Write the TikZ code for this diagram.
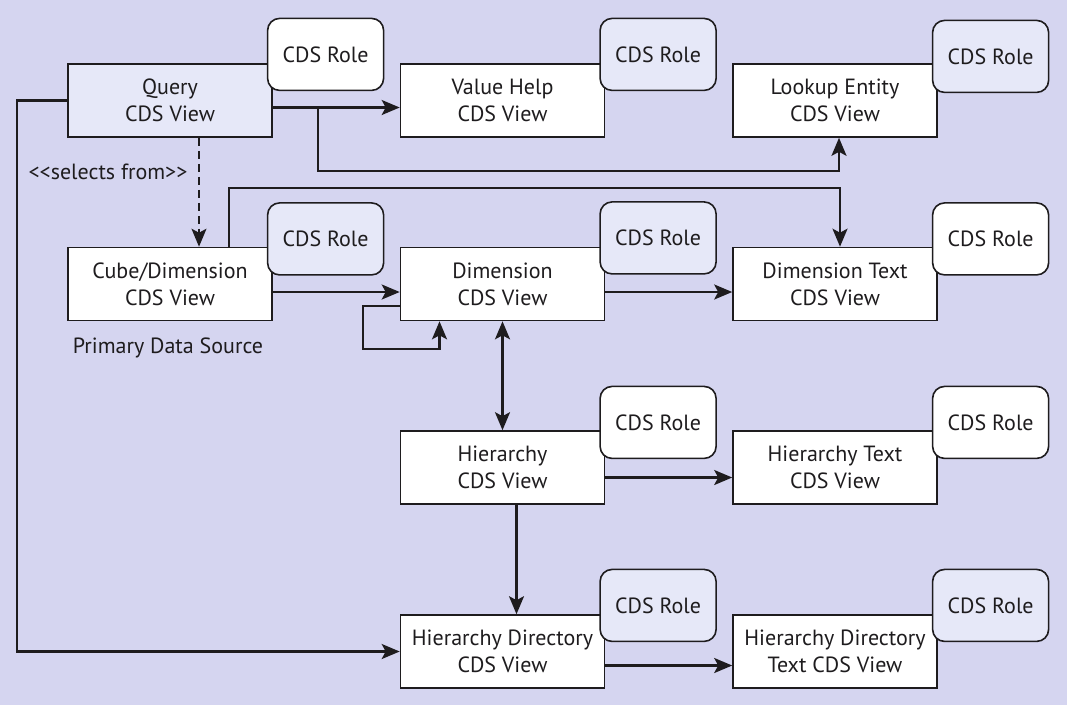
\documentclass[tikz,border=0pt]{standalone}
\usepackage{fontspec}
\setmainfont{PT Sans}
\usepackage{tikz}
\usetikzlibrary{arrows.meta}
\usetikzlibrary{positioning}
\definecolor{backdrop}{RGB}{213,213,240}
\definecolor{pale}{RGB}{230,232,248}
\definecolor{ink}{RGB}{30,28,30}

\begin{document}
\begin{tikzpicture}[x=1pt,y=-1pt,node distance=332.5pt,
  every node/.style={font=\fontsize{22pt}{27pt}\selectfont,text=ink},
  view/.style={draw=ink,line width=1.6pt,fill=white,align=center,minimum width=204pt,minimum height=73pt,inner sep=0pt},
  role/.style={draw=ink,line width=1.6pt,fill=white,rounded corners=12pt,minimum width=116pt,minimum height=72pt,inner sep=0pt,anchor=south west},
  conn/.style={draw=ink,line width=2.3pt,-{Stealth[length=18pt,width=15pt,inset=4pt]}}]
  \fill[backdrop] (0,0) rectangle (1067,705);

  \node[view,fill=pale] (query) at (170,100.5) {Query\\CDS View};
  \node[view,right of=query] (valuehelp) {Value Help\\CDS View};
  \node[view,right of=valuehelp] (lookup) {Lookup Entity\\CDS View};

  \node[view,below of=query,node distance=183.5pt] (cube) {Cube/Dimension\\CDS View};
  \node[view,right of=cube] (dim) {Dimension\\CDS View};
  \node[view,right of=dim] (dimtext) {Dimension Text\\CDS View};

  \node[view,below of=dim,node distance=183.5pt] (hier) {Hierarchy\\CDS View};
  \node[view,right of=hier] (hiertext) {Hierarchy Text\\CDS View};

  \node[view,below of=hier,node distance=184pt] (hierdir) {Hierarchy Directory\\CDS View};
  \node[view,right of=hierdir] (hierdirtext) {Hierarchy Directory\\Text CDS View};

  \draw[conn] ([yshift=-7pt]query.east) -- ([yshift=-7pt]valuehelp.west);
  \draw[conn] ([shift={(45,7)}]query.east) |- ([shift={(4,33)}]lookup.south) -- ([xshift=4pt]lookup.south);
  \draw[conn,dashed,dash pattern=on 8pt off 5pt,line width=1.8pt] ([xshift=29pt]query.south) -- ([xshift=29pt]cube.north);
  \draw[conn] (query.west) -- ++(-50,0) |- (hierdir.west);
  \draw[conn] ([xshift=59pt]cube.north) |- ([shift={(5,-59)}]dimtext.north) -- ([xshift=5pt]dimtext.north);
  \draw[conn] ([yshift=-8pt]cube.east) -- ([yshift=-8pt]dim.west);
  \draw[conn] ([yshift=-22pt]dim.west) -- ++(-37,0) |- ([shift={(-63,28)}]dim.south) -- ([xshift=-63pt]dim.south);
  \draw[conn,{Stealth[length=18pt,width=15pt,inset=4pt]}-{Stealth[length=18pt,width=15pt,inset=4pt]}] (dim) -- (hier);
  \draw[conn] ([yshift=-8pt]dim.east) -- ([yshift=-8pt]dimtext.west);
  \draw[conn] ([yshift=-10pt]hier.east) -- ([yshift=-10pt]hiertext.west);
  \draw[conn] ([xshift=14pt]hier.south) -- ([xshift=14pt]hierdir.north);
  \draw[conn] ([yshift=-14pt]hierdir.east) -- ([yshift=-14pt]hierdirtext.west);

  \node (selects) at (108,172) {<{}<selects from>{}>};
  \node (primary) at (168,348) {Primary Data Source};

  \node[role] (queryrole) at ([shift={(-6,28)}]query.north east) {CDS Role};
  \node[role,fill=pale] (valuehelprole) at ([shift={(-6,28)}]valuehelp.north east) {CDS Role};
  \node[role,fill=pale] (lookuprole) at ([shift={(-6,30)}]lookup.north east) {CDS Role};
  \node[role,fill=pale] (cuberole) at ([shift={(-6,29)}]cube.north east) {CDS Role};
  \node[role,fill=pale] (dimrole) at ([shift={(-6,28)}]dim.north east) {CDS Role};
  \node[role] (dimtextrole) at ([shift={(-6,29)}]dimtext.north east) {CDS Role};
  \node[role] (hierrole) at ([shift={(-6,29)}]hier.north east) {CDS Role};
  \node[role] (hiertextrole) at ([shift={(-6,29)}]hiertext.north east) {CDS Role};
  \node[role,fill=pale] (hierdirrole) at ([shift={(-6,28)}]hierdir.north east) {CDS Role};
  \node[role,fill=pale] (hierdirtextrole) at ([shift={(-6,28)}]hierdirtext.north east) {CDS Role};
\end{tikzpicture}
\end{document}
